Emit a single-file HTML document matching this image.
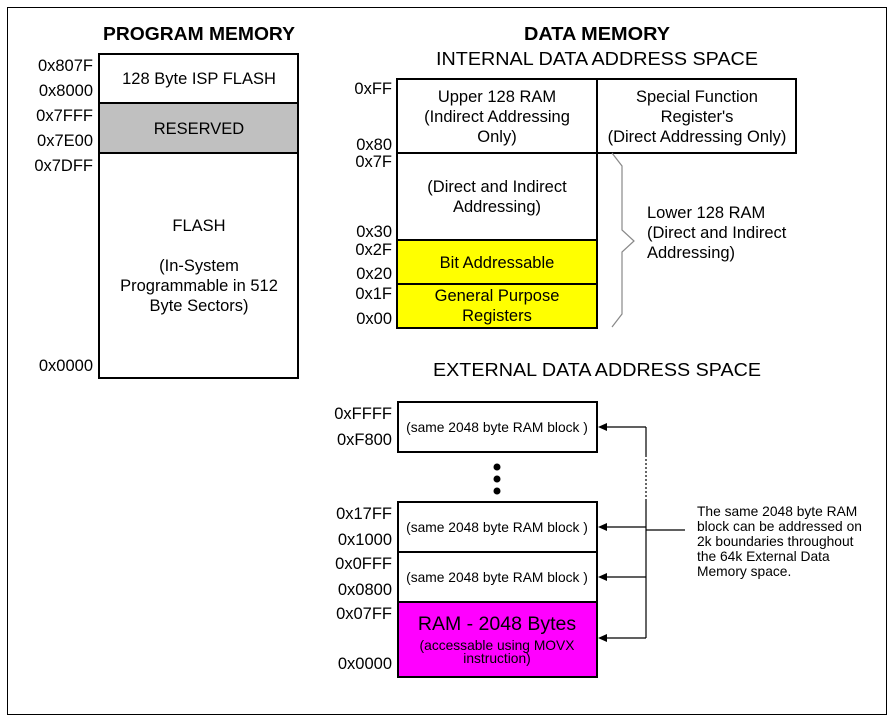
<!DOCTYPE html>
<html><head><style>body{margin:0;background:#fff}svg{display:block;font-family:"Liberation Sans",sans-serif}</style></head><body>
<svg width="896" height="723" viewBox="0 0 896 723" xmlns="http://www.w3.org/2000/svg">
<rect x="7.5" y="7.5" width="879" height="707" fill="#fff" stroke="#000" stroke-width="1"/>
<g font-size="18" font-weight="bold" text-anchor="middle">
<text x="199" y="40" textLength="192" lengthAdjust="spacingAndGlyphs">PROGRAM MEMORY</text>
<text x="597" y="40" textLength="146" lengthAdjust="spacingAndGlyphs">DATA MEMORY</text>
</g>
<g font-size="18" text-anchor="middle">
<text x="597" y="65" textLength="322" lengthAdjust="spacingAndGlyphs">INTERNAL DATA ADDRESS SPACE</text>
<text x="597" y="376" textLength="328" lengthAdjust="spacingAndGlyphs">EXTERNAL DATA ADDRESS SPACE</text>
</g>
<rect x="99" y="54" width="199" height="49" fill="#fff" stroke="#000" stroke-width="2"/>
<rect x="99" y="103" width="199" height="50" fill="#c0c0c0" stroke="#000" stroke-width="2"/>
<rect x="99" y="153" width="199" height="225" fill="#fff" stroke="#000" stroke-width="2"/>
<g font-size="16.5" text-anchor="middle">
<text x="199" y="84">128 Byte ISP FLASH</text>
<text x="199" y="134">RESERVED</text>
<text x="199" y="231">FLASH</text>
<text x="199" y="271">(In-System</text>
<text x="199" y="291">Programmable in 512</text>
<text x="199" y="311">Byte Sectors)</text>
</g>
<g font-size="16.5" text-anchor="end">
<text x="93" y="71">0x807F</text>
<text x="93" y="96">0x8000</text>
<text x="93" y="121">0x7FFF</text>
<text x="93" y="146">0x7E00</text>
<text x="93" y="171">0x7DFF</text>
<text x="93" y="371">0x0000</text>
</g>
<rect x="397" y="79" width="200" height="74" fill="#fff" stroke="#000" stroke-width="2"/>
<rect x="597" y="79" width="199" height="74" fill="#fff" stroke="#000" stroke-width="2"/>
<rect x="397" y="153" width="200" height="87" fill="#fff" stroke="#000" stroke-width="2"/>
<rect x="397" y="240" width="200" height="44" fill="#ffff00" stroke="#000" stroke-width="2"/>
<rect x="397" y="284" width="200" height="44" fill="#ffff00" stroke="#000" stroke-width="2"/>
<g font-size="16.5" text-anchor="middle">
<text x="497" y="102">Upper 128 RAM</text>
<text x="497" y="122">(Indirect Addressing</text>
<text x="497" y="142">Only)</text>
<text x="697" y="102">Special Function</text>
<text x="697" y="122">Register's</text>
<text x="697" y="142">(Direct Addressing Only)</text>
<text x="497" y="192">(Direct and Indirect</text>
<text x="497" y="212">Addressing)</text>
<text x="497" y="268">Bit Addressable</text>
<text x="497" y="301">General Purpose</text>
<text x="497" y="321">Registers</text>
</g>
<g font-size="16.5">
<text x="647" y="218">Lower 128 RAM</text>
<text x="647" y="238">(Direct and Indirect</text>
<text x="647" y="258">Addressing)</text>
</g>
<polyline points="612,153 622,166 622,230 634,241 622,252 622,314 612,327" fill="none" stroke="#888" stroke-width="1.2"/>
<g font-size="16.5" text-anchor="end">
<text x="392" y="94">0xFF</text>
<text x="392" y="150">0x80</text>
<text x="392" y="167">0x7F</text>
<text x="392" y="237">0x30</text>
<text x="392" y="255">0x2F</text>
<text x="392" y="279">0x20</text>
<text x="392" y="299">0x1F</text>
<text x="392" y="324">0x00</text>
</g>
<rect x="398" y="402" width="199" height="50" fill="#fff" stroke="#000" stroke-width="2"/>
<rect x="398" y="502" width="199" height="50" fill="#fff" stroke="#000" stroke-width="2"/>
<rect x="398" y="552" width="199" height="50" fill="#fff" stroke="#000" stroke-width="2"/>
<rect x="398" y="602" width="199" height="75" fill="#ff00ff" stroke="#000" stroke-width="2"/>
<g font-size="13.8" text-anchor="middle">
<text x="497" y="432">(same 2048 byte RAM block )</text>
<text x="497" y="532">(same 2048 byte RAM block )</text>
<text x="497" y="582">(same 2048 byte RAM block )</text>
<text x="497" y="650">(accessable using MOVX</text>
<text x="497" y="663">instruction)</text>
</g>
<text x="497" y="630" font-size="19.5" text-anchor="middle">RAM - 2048 Bytes</text>
<circle cx="497" cy="467" r="3.5"/><circle cx="497" cy="479" r="3.5"/><circle cx="497" cy="491" r="3.5"/>
<g font-size="16.5" text-anchor="end">
<text x="392" y="419">0xFFFF</text>
<text x="392" y="445">0xF800</text>
<text x="392" y="519">0x17FF</text>
<text x="392" y="545">0x1000</text>
<text x="392" y="569">0x0FFF</text>
<text x="392" y="595">0x0800</text>
<text x="392" y="619">0x07FF</text>
<text x="392" y="669">0x0000</text>
</g>
<g stroke="#000" stroke-width="1.2" fill="none">
<line x1="646" y1="427" x2="646" y2="455"/>
<line x1="646" y1="455" x2="646" y2="500" stroke-dasharray="2,2"/>
<line x1="646" y1="500" x2="646" y2="638"/>
<line x1="646" y1="530" x2="685" y2="530"/>
<line x1="605" y1="427" x2="646" y2="427"/>
<line x1="605" y1="527" x2="646" y2="527"/>
<line x1="605" y1="577" x2="646" y2="577"/>
<line x1="605" y1="638" x2="646" y2="638"/>
</g>
<g fill="#000">
<polygon points="598,427 607,423 607,431"/>
<polygon points="598,527 607,523 607,531"/>
<polygon points="598,577 607,573 607,581"/>
<polygon points="598,638 607,634 607,642"/>
</g>
<g font-size="13.8">
<text x="697" y="516">The same 2048 byte RAM</text>
<text x="697" y="531">block can be addressed on</text>
<text x="697" y="546">2k boundaries throughout</text>
<text x="697" y="561">the 64k External Data</text>
<text x="697" y="576">Memory space.</text>
</g>
</svg>
</body></html>
